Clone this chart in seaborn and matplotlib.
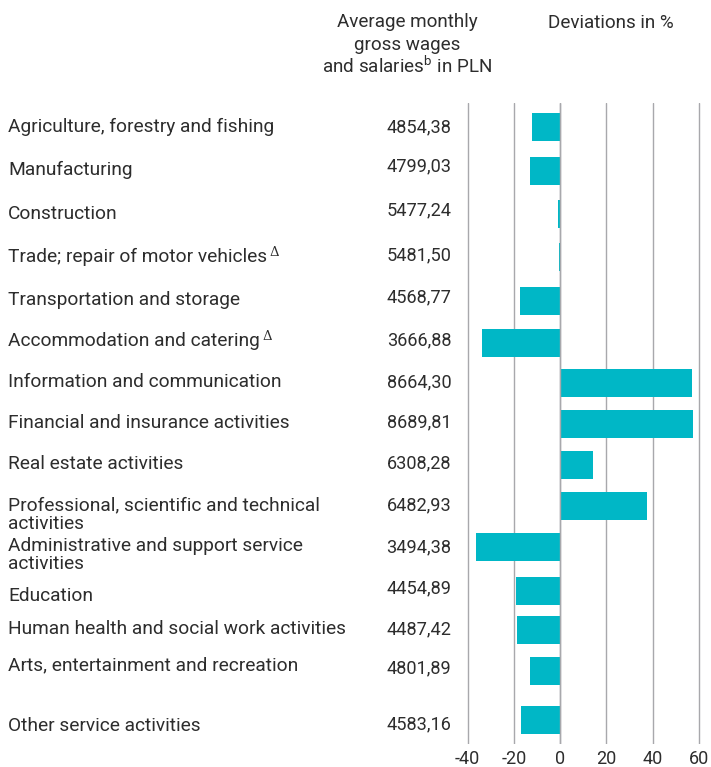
import matplotlib
matplotlib.use("Agg")
import matplotlib.pyplot as plt
import seaborn as sns
import pandas as pd

# Sectors, average monthly gross wages (PLN) and deviation from the national average (%)
sectors = [
    "Agriculture, forestry and fishing",
    "Manufacturing",
    "Construction",
    "Trade; repair of motor vehicles",
    "Transportation and storage",
    "Accommodation and catering",
    "Information and communication",
    "Financial and insurance activities",
    "Real estate activities",
    "Professional, scientific and technical\nactivities",
    "Administrative and support service\nactivities",
    "Education",
    "Human health and social work activities",
    "Arts, entertainment and recreation",
    "Other service activities",
]
wages = ["4854,38", "4799,03", "5477,24", "5481,50", "4568,77", "3666,88",
         "8664,30", "8689,81", "6308,28", "6482,93", "3494,38", "4454,89",
         "4487,42", "4801,89", "4583,16"]
deviation = [-12.1, -13.1, -0.8, -0.7, -17.2, -33.6, 56.9, 57.3, 14.1,
             37.5, -36.6, -19.2, -18.7, -13.1, -17.0]
delta_marked = ["Trade; repair of motor vehicles", "Accommodation and catering"]
x_ticks = [-40, -20, 0, 20, 40, 60]

# Layout (figure pixel rows, top = 0)
W, H = 711, 767
row_y = [127, 171, 214, 257, 301, 343, 383, 424, 465, 506, 547, 591, 630, 671, 720]
label_y = [127, 170, 214, 257, 300, 341, 382, 423, 464, 515, 555, 596, 629, 665, 726]
wage_y = [127, 166, 210, 255, 297, 340, 382, 422, 463, 505, 547, 588, 629, 668, 724]

TEAL = "#00B7C6"
GRID = "#A8A8AC"
TEXT = "#2d2d2d"
FONT = "Roboto"

sns.set_theme(style="white")
plt.rcParams["font.family"] = [FONT, "DejaVu Sans"]
plt.rcParams["mathtext.fontset"] = "custom"
plt.rcParams["mathtext.rm"] = FONT
plt.rcParams["axes.unicode_minus"] = False


def fy(p):
    return 1 - p / H


def fx(p):
    return p / W


fig = plt.figure(figsize=(W / 100, H / 100), dpi=100)
fig.patch.set_facecolor("white")

top, bottom = 103, 744
left_px, right_px = 456.1, 708.3
ax = fig.add_axes([fx(left_px), fy(bottom), (right_px - left_px) / W, (bottom - top) / H])

df = pd.DataFrame({"sector": sectors, "dev": deviation, "row": row_y})
sns.barplot(data=df, x="dev", y="row", orient="y", native_scale=True,
            width=28 / 39, color=TEAL, saturation=1, linewidth=0,
            errorbar=None, ax=ax)

ax.set_ylim(bottom, top)
ax.set_xlim(-45, 64)
ax.set_xticks(x_ticks)
ax.set_xticklabels([str(t) for t in x_ticks])
ax.set_yticks([])
ax.set_xlabel("")
ax.set_ylabel("")
ax.grid(axis="x", color=GRID, linewidth=1.0)
ax.grid(axis="y", visible=False)
ax.set_axisbelow(True)
ax.axvline(0, color=GRID, linewidth=1.0, zorder=3)
for s in ax.spines.values():
    s.set_visible(False)
ax.tick_params(axis="x", length=0, pad=4.5, labelsize=13, labelcolor=TEXT)
ax.patch.set_alpha(0)

# Sector names
for name, y in zip(sectors, label_y):
    t = fig.text(fx(8), fy(y), name, ha="left", va="center", fontsize=13.8,
                 color=TEXT, linespacing=1.03)
    if name in delta_marked:
        fig.add_artist(plt.Annotation("Δ", xy=(1, 1), xycoords=t,
                                      xytext=(2, -3), textcoords="offset points",
                                      ha="left", va="center", fontsize=9.5,
                                      color=TEXT, family="DejaVu Serif"))

# Wage column
for w, y in zip(wages, wage_y):
    fig.text(fx(419), fy(y), w, ha="center", va="center", fontsize=13.1, color=TEXT)

# Column headers
HDR = 13.6
fig.text(fx(407), fy(22), "Average monthly", ha="center", va="center", fontsize=HDR, color=TEXT)
fig.text(fx(407), fy(45), "gross wages", ha="center", va="center", fontsize=HDR, color=TEXT)
fig.text(fx(407), fy(66), r"and salaries$^{\mathrm{b}}$ in PLN", ha="center", va="center",
         fontsize=HDR, color=TEXT)
fig.text(fx(611), fy(23), "Deviations in %", ha="center", va="center", fontsize=HDR, color=TEXT)

fig.savefig("out.png", dpi=100, facecolor="white")
